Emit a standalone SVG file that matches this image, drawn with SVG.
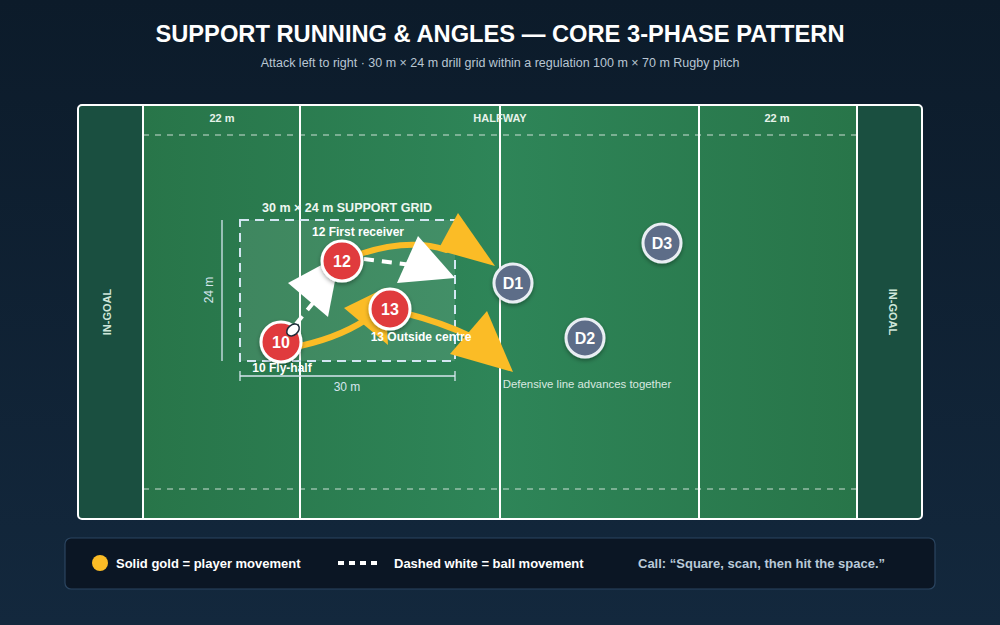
<svg xmlns="http://www.w3.org/2000/svg" width="1000" height="625" viewBox="0 0 1000 625">
<defs>
<linearGradient id="bg" x1="0" y1="0" x2="0" y2="1"><stop offset="0" stop-color="#0c1b2a"/><stop offset="1" stop-color="#13283d"/></linearGradient>
<linearGradient id="field" x1="0" y1="0" x2="1" y2="0"><stop offset="0" stop-color="#287549"/><stop offset="0.5" stop-color="#2e8558"/><stop offset="1" stop-color="#287549"/></linearGradient>
<filter id="sh" x="-30%" y="-30%" width="160%" height="160%"><feDropShadow dx="0" dy="2" stdDeviation="2" flood-color="#000" flood-opacity="0.35"/></filter>
<style>
text{font-family:"Liberation Sans",Arial,sans-serif}
.mark{fill:#e6f2ea;font-size:11px;font-weight:bold;text-anchor:middle}
.ingoal{fill:#cfe6da;font-size:11px;font-weight:bold;text-anchor:middle}
.pl{fill:none;stroke:#fff;stroke-width:2}
.dash5{fill:none;stroke:#fff;stroke-opacity:0.75;stroke-width:1.2;stroke-dasharray:6 6}
.att circle{fill:#e03a3c;stroke:#fff;stroke-width:3;filter:url(#sh)}
.def circle{fill:#5d6d88;stroke:#e9eef3;stroke-width:3;filter:url(#sh)}
.num{fill:#fff;font-size:16px;font-weight:bold;text-anchor:middle}
.lab{fill:#fff;font-size:12px;font-weight:bold}
.gold{fill:none;stroke:#fbbc26;stroke-width:6;stroke-linecap:round}
.goldhead{fill:#fbbc26}
.ball{fill:none;stroke:#fff;stroke-width:4;stroke-dasharray:10 8}
.ballhead{fill:#fff}
.dim{stroke:#d6e6ee;stroke-width:1.3;fill:none}
.dimt{fill:#d6e6ee;font-size:12px;text-anchor:middle}
.leg{fill:#fff;font-size:13px;font-weight:bold}
.call{fill:#b9c9d8;font-size:13px;font-weight:bold}
</style>
</defs>
<rect width="1000" height="625" fill="url(#bg)"/>
<text x="500" y="42" text-anchor="middle" fill="#fff" font-size="23.7" font-weight="bold">SUPPORT RUNNING &amp; ANGLES — CORE 3-PHASE PATTERN</text>
<text x="500" y="67" text-anchor="middle" fill="#b9c6d3" font-size="12.5">Attack left to right · 30 m × 24 m drill grid within a regulation 100 m × 70 m Rugby pitch</text>

<g id="pitch">
<rect x="78" y="105" width="844" height="414" rx="4" fill="#1a4f40"/>
<rect x="143" y="105" width="714" height="414" fill="url(#field)"/>
<rect x="78" y="105" width="844" height="414" rx="4" class="pl"/>
<line x1="143" y1="105" x2="143" y2="519" class="pl"/>
<line x1="857" y1="105" x2="857" y2="519" class="pl"/>
<line x1="300" y1="105" x2="300" y2="519" class="pl"/>
<line x1="500" y1="105" x2="500" y2="519" class="pl"/>
<line x1="699" y1="105" x2="699" y2="519" class="pl"/>
<line x1="143" y1="135" x2="857" y2="135" class="dash5"/>
<line x1="143" y1="489" x2="857" y2="489" class="dash5"/>
<text x="222" y="122" class="mark">22 m</text>
<text x="500" y="122" class="mark">HALFWAY</text>
<text x="777" y="122" class="mark">22 m</text>
<text class="ingoal" transform="translate(111,312) rotate(-90)">IN-GOAL</text>
<text class="ingoal" transform="translate(889,312) rotate(90)">IN-GOAL</text>
</g>

<g id="grid">
<rect x="240" y="220" width="215" height="141" fill="#ffffff" fill-opacity="0.1" stroke="#d3e6f2" stroke-width="2" stroke-dasharray="9 6"/>
<text x="347" y="212" text-anchor="middle" fill="#eef6f1" font-size="12.5" font-weight="bold">30 m × 24 m SUPPORT GRID</text>
<line x1="222" y1="220" x2="222" y2="361" class="dim"/>
<text class="dimt" transform="translate(213,290) rotate(-90)">24 m</text>
<line x1="240" y1="376" x2="455" y2="376" class="dim"/>
<line x1="240" y1="371" x2="240" y2="381" class="dim"/>
<line x1="455" y1="371" x2="455" y2="381" class="dim"/>
<text x="347" y="391" class="dimt">30 m</text>
</g>

<g id="connectors">
<path class="gold" d="M300,346 Q345,336 374,314"/>
<polygon class="goldhead" points="344,308 388,345 385,288"/>
<path class="gold" d="M360,254 Q410,238 446,250"/>
<polygon class="goldhead" points="458,213 495,266 438,250"/>
<path class="gold" d="M408,314 Q440,322 470,336"/>
<polygon class="goldhead" points="487,311 513,372 450,354"/>
<path class="ball" d="M296,324 L330,282"/>
<polygon class="ballhead" points="288,283 328,317 340,255"/>
<path class="ball" d="M364,259 L412,265"/>
<polygon class="ballhead" points="418,236 397,283 455,278"/>
</g>

<g id="p10" class="att"><circle cx="281" cy="342" r="20"/><text x="281" y="348" class="num">10</text></g>
<g id="ball"><ellipse cx="293" cy="330" rx="7" ry="5" transform="rotate(-40 293 330)" fill="#fff" stroke="#1d2b3a" stroke-width="1.5"/></g>
<g id="p12" class="att"><circle cx="342" cy="261" r="20"/><text x="342" y="267" class="num">12</text></g>
<g id="p13" class="att"><circle cx="390" cy="309" r="20"/><text x="390" y="315" class="num">13</text></g>
<g id="d1" class="def"><circle cx="513" cy="283" r="19"/><text x="513" y="289" class="num" font-size="14">D1</text></g>
<g id="d2" class="def"><circle cx="585" cy="338" r="19"/><text x="585" y="344" class="num">D2</text></g>
<g id="d3" class="def"><circle cx="662" cy="243" r="19"/><text x="662" y="249" class="num">D3</text></g>

<g id="labels">
<text x="358" y="236" class="lab" text-anchor="middle">12 First receiver</text>
<text x="421" y="341" class="lab" text-anchor="middle">13 Outside centre</text>
<text x="282" y="372" class="lab" text-anchor="middle">10 Fly-half</text>
<text x="587" y="388" fill="#d9e9e0" font-size="11.4" text-anchor="middle">Defensive line advances together</text>
</g>

<g id="legend">
<rect x="65" y="538" width="870" height="51" rx="6" fill="#0b1624" stroke="#2b4560" stroke-width="1.2"/>
<circle cx="100" cy="563" r="8" fill="#fbbc26"/>
<text x="116" y="568" class="leg">Solid gold = player movement</text>
<line x1="338" y1="563" x2="382" y2="563" stroke="#fff" stroke-width="4" stroke-dasharray="6 5"/>
<text x="394" y="568" class="leg">Dashed white = ball movement</text>
<text x="638" y="568" class="call">Call: “Square, scan, then hit the space.”</text>
</g>
</svg>
